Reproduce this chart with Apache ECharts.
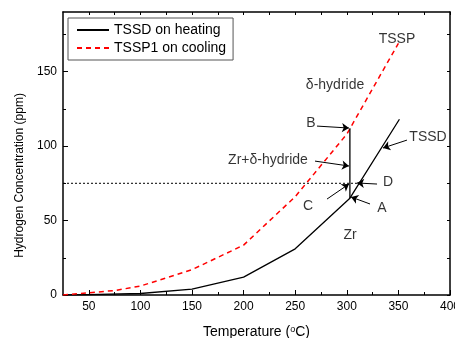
<!DOCTYPE html>
<html>
<head>
<meta charset="utf-8">
<script src="https://cdn.jsdelivr.net/npm/echarts@6/dist/echarts.min.js"></script>
<style>
html,body{margin:0;padding:0;background:#fff;}
#chart{width:455px;height:338px;}
</style>
</head>
<body>
<div id="chart"></div>
<script>
// ---- data ----
const tempHeat = [25, 50, 100, 150, 200, 250, 303, 351];
const ppmHeat  = [0, 0.3, 1, 4, 12, 31, 65, 118];
const tempCool = [25, 50, 75, 100, 150, 200, 250, 300, 350];
const ppmCool  = [0, 1.5, 3, 6, 17, 33.5, 66, 108, 169];
const boundaryT = [303, 303];
const boundaryPpm = [65, 112];
const levelT = [25, 312];
const levelPpm = [75, 75];
const xMajorTicks = [50, 100, 150, 200, 250, 300, 350, 400];
const xMinorTicks = [75, 125, 175, 225, 275, 325, 375];
const yMajorTicks = [0, 50, 100, 150];
const yMinorTicks = [25, 75, 125, 175];
const noteTexts = ['TSSP', 'δ-hydride', 'B', 'Zr+δ-hydride', 'C', 'D', 'A', 'TSSD', 'Zr'];
const noteT     = [348.6, 288.6, 265.3, 223.6, 262.4, 339.9, 334.1, 378.7, 303.1];
const notePpm   = [171.8, 140.9, 115.4, 90.6, 59.7, 75.8, 58.4, 106, 40.3];
const arrowFromT   = [271.1, 269.2, 280.8, 329.3, 322.5, 358.3];
const arrowFromPpm = [113.4, 89.9, 64.4, 74.5, 61.1, 104];
const arrowToT     = [302.1, 302.1, 302.1, 309.9, 304.1, 335.1];
const arrowToPpm   = [112.1, 86.6, 74.5, 75.2, 65.8, 98.7];

const FONT = "'Liberation Sans', Arial, sans-serif";
const zip = (a, b) => a.map((v, i) => [v, b[i]]);

function xAx(extra) {
  return Object.assign({
    type: 'value', min: 25, max: 400, position: 'bottom',
    axisLine: { show: false, onZero: false },
    axisTick: { show: false },
    axisLabel: { show: false },
    splitLine: { show: false }
  }, extra);
}
function yAx(extra) {
  return Object.assign({
    type: 'value', min: 0, max: 190, position: 'left',
    axisLine: { show: false, onZero: false },
    axisTick: { show: false },
    axisLabel: { show: false },
    splitLine: { show: false }
  }, extra);
}
const axLine = { show: true, onZero: false, lineStyle: { color: '#000', width: 1.5 } };
const tk = (vals, len) => ({ show: true, inside: true, length: len, customValues: vals, lineStyle: { color: '#000', width: 1 } });

const chart = echarts.init(document.getElementById('chart'), null, { renderer: 'canvas' });
chart.setOption({
  animation: false,
  textStyle: { fontFamily: FONT },
  grid: { left: 63, right: 5, top: 12, bottom: 43, containLabel: false, outerBoundsMode: 'none' },
  legend: {
    data: ['TSSD on heating', 'TSSP1 on cooling'],
    orient: 'vertical', left: 68, top: 18,
    itemWidth: 32, itemHeight: 14, itemGap: 4,
    padding: [5, 7, 5, 8],
    borderColor: '#555', borderWidth: 1, borderRadius: 0,
    backgroundColor: '#fff',
    itemStyle: { opacity: 0 },
    textStyle: { fontSize: 14, color: '#000', fontFamily: FONT }
  },
  xAxis: [
    xAx({
      axisLine: axLine,
      axisTick: tk(xMajorTicks, 5),
      axisLabel: { show: true, customValues: xMajorTicks, fontSize: 12, color: '#000', margin: 6, fontFamily: FONT },
      name: 'Temperature ({s|o}C)', nameLocation: 'middle', nameGap: 30,
      nameTextStyle: { fontSize: 14, color: '#000', fontFamily: FONT,
        rich: { s: { fontSize: 9, verticalAlign: 'top', color: '#000', fontFamily: FONT } } }
    }),
    xAx({ axisTick: tk(xMinorTicks, 3) }),
    xAx({ position: 'top', axisLine: axLine, axisTick: tk(xMajorTicks.concat(xMinorTicks), 3) })
  ],
  yAxis: [
    yAx({
      axisLine: axLine,
      axisTick: tk(yMajorTicks, 5),
      axisLabel: { show: true, customValues: yMajorTicks, fontSize: 12, color: '#000', margin: 6, fontFamily: FONT },
      name: 'Hydrogen Concentration (ppm)', nameLocation: 'middle', nameGap: 36,
      nameTextStyle: { fontSize: 12, color: '#000', fontFamily: FONT, padding: [0, 44, 0, 0] }
    }),
    yAx({ axisTick: tk(yMinorTicks, 3) }),
    yAx({ position: 'right', axisLine: axLine, axisTick: tk(yMajorTicks.concat(yMinorTicks), 3) })
  ],
  series: [
    {
      name: 'TSSD on heating', type: 'line', symbol: 'none', silent: true,
      data: zip(tempHeat, ppmHeat),
      lineStyle: { color: '#000', width: 1.3, type: 'solid' },
      itemStyle: { color: '#000' }
    },
    {
      name: 'TSSP1 on cooling', type: 'line', symbol: 'none', silent: true,
      data: zip(tempCool, ppmCool),
      lineStyle: { color: '#ff0000', width: 1.5, type: [5, 4] },
      itemStyle: { color: '#ff0000' }
    },
    {
      name: 'boundary', type: 'line', symbol: 'none', silent: true,
      data: zip(boundaryT, boundaryPpm),
      lineStyle: { color: '#000', width: 1.3 }
    },
    {
      name: 'level', type: 'line', symbol: 'none', silent: true,
      data: zip(levelT, levelPpm),
      lineStyle: { color: '#000', width: 1, type: [2, 2] }
    },
    {
      name: 'notes', type: 'scatter', symbolSize: 0, silent: true,
      data: zip(noteT, notePpm),
      label: { show: true, position: 'inside', fontSize: 14, color: '#000', fontFamily: FONT,
        formatter: p => noteTexts[p.dataIndex] },
      markLine: {
        silent: true, animation: false,
        symbol: ['none', 'arrow'], symbolSize: 7,
        label: { show: false },
        lineStyle: { color: '#000', width: 1, type: 'solid' },
        emphasis: { disabled: true },
        data: arrowFromT.map((t, i) => [
          { coord: [t, arrowFromPpm[i]] },
          { coord: [arrowToT[i], arrowToPpm[i]] }
        ])
      }
    }
  ]
});
</script>
</body>
</html>
